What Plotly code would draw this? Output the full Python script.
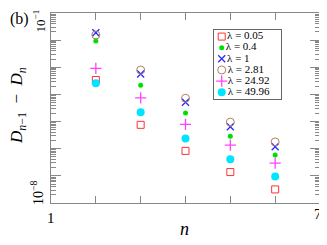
import plotly.graph_objects as go

n_vals = [2, 3, 4, 5, 6]
lam_labels = ["0.05", "0.4", "1", "2.81", "24.92", "49.96"]
# log10 of D_{n-1} - D_n
log_l005 = [-3.47, -5.12, -6.08, -6.86, -7.50]
log_l04 = [-2.03, -3.66, -4.68, -5.54, -6.23]
log_l1 = [-1.73, -3.25, -4.29, -5.19, -5.93]
log_l281 = [-1.81, -3.10, -4.14, -5.02, -5.75]
log_l2492 = [-3.04, -4.13, -5.10, -5.87, -6.53]
log_l4996 = [-3.59, -4.66, -5.62, -6.39, -7.02]
series = [log_l005, log_l04, log_l1, log_l281, log_l2492, log_l4996]
x_ticks = [1, 2, 3, 4, 5, 6, 7]

styles = [
    dict(symbol="square-open", color="#ff3333", size=7, lw=1),
    dict(symbol="circle", color="#00e000", size=5, lw=0),
    dict(symbol="x-thin-open", color="#2a2aff", size=7, lw=1.3),
    dict(symbol="circle-open", color="#b08060", size=8, lw=1),
    dict(symbol="cross-thin-open", color="#ff44ff", size=8, lw=1.3),
    dict(symbol="circle", color="#00e5ff", size=8, lw=0),
]

FONT = "Liberation Serif"
GRAY = "#888888"
fig = go.Figure()
for lab, vals, st in zip(lam_labels, series, styles):
    fig.add_trace(go.Scatter(
        x=n_vals, y=[10 ** v for v in vals], mode="markers",
        marker=dict(symbol=st["symbol"], color=st["color"], size=st["size"],
                    line=dict(width=st["lw"], color=st["color"])),
        name="λ = " + lab, showlegend=False, xaxis="x", yaxis="y"))

# legend drawn as a small categorical panel
legend_names = ["λ = " + lab for lab in lam_labels]
for name, st in zip(legend_names, styles):
    fig.add_trace(go.Scatter(
        x=[0.115], y=[name], mode="markers+text", text=[name],
        textposition="middle right", cliponaxis=False,
        textfont=dict(family=FONT, size=11, color="black"),
        marker=dict(symbol=st["symbol"], color=st["color"], size=st["size"],
                    line=dict(width=st["lw"], color=st["color"])),
        showlegend=False, xaxis="x2", yaxis="y2", hoverinfo="skip"))

major = [10.0 ** k for k in range(-8, 0)]
minor = [m * 10.0 ** k for k in range(-8, -1) for m in range(2, 10)]

# the page body adds an 8px offset, so margins are shifted by 8px
fig.update_layout(
    width=327, height=245,
    margin=dict(l=43, r=15, t=5, b=50),
    paper_bgcolor="white", plot_bgcolor="white",
    font=dict(family=FONT, color="black", size=13),
    showlegend=False,
    xaxis=dict(range=[1, 7], tickvals=x_ticks, showticklabels=False,
               ticks="inside", ticklen=7, tickcolor=GRAY, tickwidth=1,
               showline=True, linecolor=GRAY, linewidth=1, mirror="ticks",
               showgrid=False, zeroline=False, automargin=False),
    yaxis=dict(type="log", range=[-8, -1], tickvals=major, showticklabels=False,
               ticks="inside", ticklen=10, tickcolor=GRAY, tickwidth=1,
               minor=dict(tickvals=minor, ticks="inside", ticklen=5, tickcolor=GRAY),
               showline=True, linecolor=GRAY, linewidth=1, mirror="ticks",
               showgrid=False, zeroline=False, automargin=False),
    xaxis2=dict(domain=[0.606, 0.855], range=[0, 1], anchor="y2",
                showticklabels=False, ticks="", showgrid=False, zeroline=False,
                showline=True, linecolor="#666666", mirror=True, fixedrange=True),
    yaxis2=dict(domain=[0.548, 0.911], range=[5.6, -0.6], anchor="x2",
                type="category", categoryorder="array", categoryarray=legend_names,
                showticklabels=False, ticks="", showgrid=False, zeroline=False,
                showline=True, linecolor="#666666", mirror=True, fixedrange=True),
)

ann = [
    dict(text="(b)", x=0, y=1, xshift=-43, yshift=5, xanchor="left", yanchor="top",
         font=dict(size=16)),
    dict(text="<i>D</i><sub><i>n</i>−1</sub>  −  <i>D</i><sub><i>n</i></sub>",
         x=0, y=0.511, xshift=-33, xanchor="center", yanchor="middle",
         textangle=-90, font=dict(size=17)),
    dict(text="10<sup>−1</sup>", x=0, y=1, xshift=-12, yshift=5, xanchor="center",
         yanchor="top", textangle=-90, font=dict(size=13)),
    dict(text="10<sup>−8</sup>", x=0, y=0.053, xshift=-14, xanchor="center",
         yanchor="middle", textangle=-90, font=dict(size=14)),
    dict(text=str(x_ticks[0]), x=0, y=-0.079, xanchor="center", yanchor="middle",
         font=dict(size=15)),
    dict(text=str(x_ticks[-1]), x=0.9926, y=-0.058, xanchor="center", yanchor="middle",
         font=dict(size=15)),
    dict(text="<i>n</i>", x=0.498, y=-0.137, xanchor="center", yanchor="middle",
         font=dict(size=18)),
]
for a in ann:
    a.update(xref="paper", yref="paper", showarrow=False)
fig.update_layout(annotations=ann)
fig.write_html("out.html")
